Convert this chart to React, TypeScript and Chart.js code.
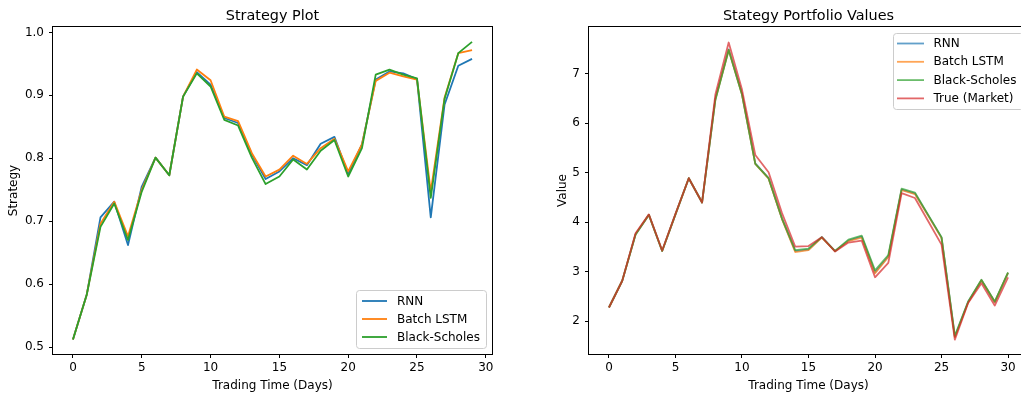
import { useEffect, useRef } from "react";
import { Chart, registerables } from "chart.js";

Chart.register(...registerables);

// ---- data ----
const strategyDays = [0, 1, 2, 3, 4, 5, 6, 7, 8, 9, 10, 11, 12, 13, 14, 15, 16, 17, 18, 19, 20, 21, 22, 23, 24, 25, 26, 27, 28, 29];
const strategyRNN = [0.512, 0.583, 0.706, 0.731, 0.662, 0.755, 0.801, 0.773, 0.898, 0.937, 0.917, 0.864, 0.856, 0.806, 0.767, 0.779, 0.800, 0.789, 0.823, 0.834, 0.775, 0.822, 0.925, 0.938, 0.935, 0.926, 0.706, 0.885, 0.947, 0.958];
const strategyLSTM = [0.512, 0.583, 0.696, 0.731, 0.676, 0.750, 0.801, 0.773, 0.898, 0.941, 0.924, 0.866, 0.859, 0.808, 0.771, 0.782, 0.804, 0.791, 0.816, 0.831, 0.779, 0.822, 0.923, 0.936, 0.930, 0.925, 0.747, 0.896, 0.967, 0.972];
const strategyBS = [0.512, 0.583, 0.691, 0.728, 0.670, 0.747, 0.801, 0.773, 0.898, 0.935, 0.914, 0.861, 0.852, 0.801, 0.759, 0.771, 0.798, 0.782, 0.812, 0.829, 0.771, 0.816, 0.933, 0.941, 0.933, 0.927, 0.737, 0.894, 0.967, 0.985];

const portfolioDays = [0, 1, 2, 3, 4, 5, 6, 7, 8, 9, 10, 11, 12, 13, 14, 15, 16, 17, 18, 19, 20, 21, 22, 23, 24, 25, 26, 27, 28, 29, 30];
const portfolioRNN = [2.28, 2.82, 3.76, 4.15, 3.42, 4.16, 4.89, 4.40, 6.49, 7.49, 6.59, 5.19, 4.89, 4.08, 3.42, 3.45, 3.70, 3.42, 3.63, 3.71, 2.99, 3.31, 4.66, 4.58, 4.14, 3.69, 1.69, 2.39, 2.83, 2.39, 2.98];
const portfolioLSTM = [2.28, 2.82, 3.76, 4.15, 3.42, 4.16, 4.89, 4.40, 6.48, 7.48, 6.58, 5.18, 4.88, 4.07, 3.40, 3.44, 3.69, 3.42, 3.62, 3.69, 2.97, 3.30, 4.65, 4.57, 4.13, 3.68, 1.68, 2.38, 2.83, 2.39, 2.98];
const portfolioBS = [2.28, 2.82, 3.75, 4.15, 3.42, 4.16, 4.89, 4.40, 6.47, 7.48, 6.58, 5.18, 4.89, 4.08, 3.44, 3.47, 3.70, 3.42, 3.65, 3.73, 3.03, 3.34, 4.68, 4.60, 4.15, 3.70, 1.71, 2.40, 2.84, 2.40, 2.99];
const portfolioMarket = [2.28, 2.82, 3.78, 4.16, 3.43, 4.17, 4.89, 4.40, 6.58, 7.63, 6.68, 5.36, 5.01, 4.19, 3.51, 3.52, 3.70, 3.41, 3.59, 3.63, 2.89, 3.18, 4.59, 4.49, 4.02, 3.55, 1.63, 2.37, 2.77, 2.32, 2.89];

const dayTicks = [0, 5, 10, 15, 20, 25, 30];
const strategyTicks = [0.5, 0.6, 0.7, 0.8, 0.9, 1.0];
const valueTicks = [2, 3, 4, 5, 6, 7];

// ---- styling ----
const FONT = "'DejaVu Sans', 'Liberation Sans', sans-serif";
const BLUE = "#1f77b4";
const ORANGE = "#ff7f0e";
const GREEN = "#2ca02c";
const RED = "#d62728";

function withAlpha(hex: string, a: number) {
  const n = parseInt(hex.slice(1), 16);
  return `rgba(${(n >> 16) & 255},${(n >> 8) & 255},${n & 255},${a})`;
}

type Series = { label: string; xs: number[]; ys: number[]; color: string };

type LegendSpec = {
  box: [number, number, number, number];
  y0: number;
  dy: number;
  lx0: number;
  lx1: number;
  tx: number;
};

type DecorOpts = {
  title: string;
  xLabel: string;
  yLabel: string;
  yLabelX: number;
  legend: LegendSpec;
  items: { label: string; color: string }[];
};

// Frame, titles, axis labels and an inset legend in the matplotlib look.
const decor = {
  id: "decor",
  afterDatasetsDraw(chart: any, _args: any, o: DecorOpts) {
    const { ctx, chartArea: a } = chart;
    ctx.save();
    ctx.strokeStyle = "#000";
    ctx.lineWidth = 1;
    const l = Math.round(a.left) - 0.5;
    const t = Math.round(a.top) - 0.5;
    const r = Math.round(a.right) + 0.5;
    const b = Math.round(a.bottom) + 0.5;
    ctx.strokeRect(l, t, r - l, b - t);

    const cx = (a.left + a.right) / 2;
    const cy = (a.top + a.bottom) / 2;
    ctx.fillStyle = "#000";
    ctx.textAlign = "center";
    ctx.textBaseline = "alphabetic";
    ctx.font = `14.4px ${FONT}`;
    ctx.fillText(o.title, cx, 20);
    ctx.font = `12px ${FONT}`;
    ctx.fillText(o.xLabel, cx, 389);
    ctx.save();
    ctx.translate(o.yLabelX, cy);
    ctx.rotate(-Math.PI / 2);
    ctx.fillText(o.yLabel, 0, 0);
    ctx.restore();

    const lg = o.legend;
    const [bx, by, bw, bh] = lg.box;
    ctx.beginPath();
    ctx.roundRect(bx + 0.5, by + 0.5, bw, bh, 3);
    ctx.fillStyle = "rgba(255,255,255,0.8)";
    ctx.fill();
    ctx.strokeStyle = "#cccccc";
    ctx.lineWidth = 1;
    ctx.stroke();
    ctx.textAlign = "left";
    ctx.textBaseline = "middle";
    o.items.forEach((it, i) => {
      const y = lg.y0 + i * lg.dy;
      ctx.beginPath();
      ctx.moveTo(lg.lx0, y);
      ctx.lineTo(lg.lx1, y);
      ctx.strokeStyle = it.color;
      ctx.lineWidth = 1.8;
      ctx.stroke();
      ctx.fillStyle = "#000";
      ctx.fillText(it.label, lg.tx, y + 0.5);
    });
    ctx.restore();
  },
};

type PanelSpec = {
  series: Series[];
  xMin: number;
  xMax: number;
  yMin: number;
  yMax: number;
  yTicks: number[];
  yFmt: (v: number) => string;
  yWidth: number;
  padRight: number;
  decor: DecorOpts;
};

function axisCommon() {
  return {
    type: "linear" as const,
    grid: { display: true, drawOnChartArea: false, drawTicks: true, tickLength: 4, color: "#000", lineWidth: 1 },
    border: { display: false },
  };
}

function buildConfig(p: PanelSpec): any {
  const n = p.series.length;
  return {
    type: "line",
    data: {
      datasets: p.series.map((s, i) => ({
        label: s.label,
        data: s.xs.map((x, k) => ({ x, y: s.ys[k] })),
        borderColor: s.color,
        borderWidth: 1.8,
        pointRadius: 0,
        pointHoverRadius: 0,
        tension: 0,
        fill: false,
        borderJoinStyle: "round",
        order: n - 1 - i,
      })),
    },
    options: {
      responsive: false,
      animation: false,
      devicePixelRatio: 1,
      layout: { padding: { top: 27, right: p.padRight, left: 0, bottom: 0 } },
      plugins: { legend: { display: false }, tooltip: { enabled: false }, decor: p.decor },
      scales: {
        x: {
          ...axisCommon(),
          min: p.xMin,
          max: p.xMax,
          afterBuildTicks: (s: any) => {
            s.ticks = dayTicks.map((v) => ({ value: v }));
          },
          afterFit: (s: any) => {
            s.height = 40;
          },
          ticks: {
            font: { family: FONT, size: 12 },
            color: "#000",
            padding: 3,
            maxRotation: 0,
            autoSkip: false,
            callback: (v: any) => String(v),
          },
        },
        y: {
          ...axisCommon(),
          min: p.yMin,
          max: p.yMax,
          afterBuildTicks: (s: any) => {
            s.ticks = p.yTicks.map((v) => ({ value: v }));
          },
          afterFit: (s: any) => {
            s.width = p.yWidth;
          },
          ticks: {
            font: { family: FONT, size: 12 },
            color: "#000",
            padding: 5,
            autoSkip: false,
            callback: (v: any) => p.yFmt(Number(v)),
          },
        },
      },
    },
    plugins: [decor],
  };
}

function Panel({ spec, left, width }: { spec: PanelSpec; left: number; width: number }) {
  const ref = useRef<HTMLCanvasElement>(null);
  useEffect(() => {
    const chart = new Chart(ref.current as HTMLCanvasElement, buildConfig(spec));
    return () => chart.destroy();
  }, [spec]);
  return (
    <canvas
      ref={ref}
      width={width}
      height={394}
      style={{ position: "absolute", left, top: 0, width, height: 394, display: "block" }}
    />
  );
}

const strategyPanel: PanelSpec = {
  series: [
    { label: "RNN", xs: strategyDays, ys: strategyRNN, color: BLUE },
    { label: "Batch LSTM", xs: strategyDays, ys: strategyLSTM, color: ORANGE },
    { label: "Black-Scholes", xs: strategyDays, ys: strategyBS, color: GREEN },
  ],
  xMin: -1.45,
  xMax: 30.45,
  yMin: 0.4889,
  yMax: 1.0086,
  yTicks: strategyTicks,
  yFmt: (v) => v.toFixed(1),
  yWidth: 53,
  padRight: 28,
  decor: {
    title: "Strategy Plot",
    xLabel: "Trading Time (Days)",
    yLabel: "Strategy",
    yLabelX: 17,
    legend: { box: [356, 290, 130, 58], y0: 301, dy: 18, lx0: 362, lx1: 387, tx: 397 },
    items: [
      { label: "RNN", color: BLUE },
      { label: "Batch LSTM", color: ORANGE },
      { label: "Black-Scholes", color: GREEN },
    ],
  },
};

const ALPHA = 0.7;
const portfolioPanel: PanelSpec = {
  series: [
    { label: "RNN", xs: portfolioDays, ys: portfolioRNN, color: withAlpha(BLUE, ALPHA) },
    { label: "Batch LSTM", xs: portfolioDays, ys: portfolioLSTM, color: withAlpha(ORANGE, ALPHA) },
    { label: "Black-Scholes", xs: portfolioDays, ys: portfolioBS, color: withAlpha(GREEN, ALPHA) },
    { label: "True (Market)", xs: portfolioDays, ys: portfolioMarket, color: withAlpha(RED, ALPHA) },
  ],
  xMin: -1.5,
  xMax: 31.5,
  yMin: 1.341,
  yMax: 7.943,
  yTicks: valueTicks,
  yFmt: (v) => String(v),
  yWidth: 69,
  padRight: 22,
  decor: {
    title: "Stategy Portfolio Values",
    xLabel: "Trading Time (Days)",
    yLabel: "Value",
    yLabelX: 45.5,
    legend: { box: [373, 33, 130, 76], y0: 43.5, dy: 18.3, lx0: 377, lx1: 404, tx: 413.5 },
    items: [
      { label: "RNN", color: withAlpha(BLUE, ALPHA) },
      { label: "Batch LSTM", color: withAlpha(ORANGE, ALPHA) },
      { label: "Black-Scholes", color: withAlpha(GREEN, ALPHA) },
      { label: "True (Market)", color: withAlpha(RED, ALPHA) },
    ],
  },
};

export default function App() {
  return (
    <div
      style={{
        position: "fixed",
        left: 0,
        top: 0,
        width: 1021,
        height: 394,
        overflow: "hidden",
        background: "#fff",
      }}
    >
      <Panel spec={strategyPanel} left={0} width={520} />
      <Panel spec={portfolioPanel} left={520} width={530} />
    </div>
  );
}
